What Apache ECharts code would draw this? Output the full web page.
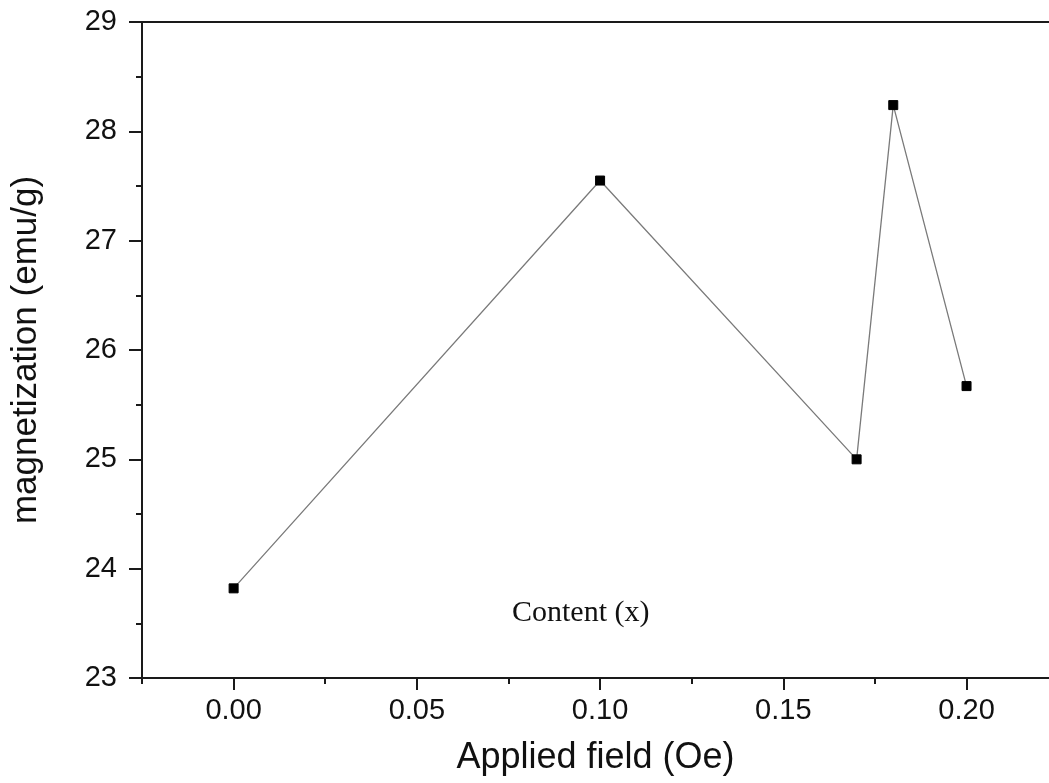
<!DOCTYPE html>
<html>
<head>
<meta charset="utf-8">
<script src="https://cdn.jsdelivr.net/npm/echarts@6/dist/echarts.min.js"></script>
<style>
  html, body { margin: 0; padding: 0; background: #fff; }
  #chart { width: 1049px; height: 783px; }
</style>
</head>
<body>
<div id="chart"></div>
<script>
// content x values and magnetization (emu/g)
const contentX = [0.00, 0.10, 0.17, 0.18, 0.20]
const magnetization = [23.82, 27.55, 25.00, 28.24, 25.67]

// x axis tick positions
const xMajorTicks = [0.00, 0.05, 0.10, 0.15, 0.20]
const xMinorTicks = [-0.025, 0.025, 0.075, 0.125, 0.175]

const xTitle = 'Applied field (Oe)'
const yTitle = 'magnetization (emu/g)'
const note = 'Content (x)'

const seriesData = contentX.map((x, i) => [x, magnetization[i]])

const axisColor = '#1a1a1a'
const sans = 'Liberation Sans, Arial, sans-serif'
const xMin = -0.025
const xMax = 0.2225

const chart = echarts.init(document.getElementById('chart'))
chart.setOption({
  animation: false,
  backgroundColor: '#fff',
  grid: { left: 142, top: 22, right: 0, bottom: 105, containLabel: false },
  xAxis: [{
    type: 'value',
    min: xMin,
    max: xMax,
    position: 'bottom',
    name: xTitle,
    nameLocation: 'middle',
    nameGap: 62,
    nameTextStyle: { fontFamily: sans, fontSize: 36, color: '#111' },
    axisLine: { onZero: false, lineStyle: { color: axisColor, width: 2 } },
    axisTick: { length: 12, customValues: xMajorTicks, lineStyle: { color: axisColor, width: 2 } },
    splitLine: { show: false },
    axisLabel: {
      margin: 18, fontFamily: sans, fontSize: 29, color: '#111',
      customValues: xMajorTicks,
      formatter: v => v.toFixed(2)
    }
  }, {
    // minor ticks
    type: 'value',
    min: xMin,
    max: xMax,
    position: 'bottom',
    axisLine: { show: false, onZero: false },
    axisTick: { length: 6, customValues: xMinorTicks, lineStyle: { color: axisColor, width: 2 } },
    axisLabel: { show: false },
    splitLine: { show: false }
  }, {
    type: 'value',
    min: xMin,
    max: xMax,
    position: 'top',
    axisLine: { onZero: false, lineStyle: { color: axisColor, width: 2 } },
    axisTick: { show: false },
    axisLabel: { show: false },
    splitLine: { show: false }
  }],
  yAxis: {
    type: 'value',
    min: 23,
    max: 29,
    interval: 1,
    name: yTitle,
    nameLocation: 'middle',
    nameGap: 98,
    nameTextStyle: { fontFamily: sans, fontSize: 35, color: '#111' },
    axisLine: { show: true, onZero: false, lineStyle: { color: axisColor, width: 2 } },
    axisTick: { length: 13, lineStyle: { color: axisColor, width: 2 } },
    minorTick: { show: true, splitNumber: 2, length: 6, lineStyle: { color: axisColor, width: 2 } },
    splitLine: { show: false },
    axisLabel: { margin: 25, fontFamily: sans, fontSize: 29, color: '#111' }
  },
  graphic: [{
    type: 'text',
    left: 512,
    top: 598,
    style: { text: note, font: '30px "Liberation Serif", "Times New Roman", serif', fill: '#111' }
  }],
  series: [{
    type: 'line',
    data: seriesData,
    symbol: 'rect',
    symbolSize: 9,
    itemStyle: { color: '#000', borderColor: '#000', borderWidth: 1 },
    lineStyle: { color: '#7a7a7a', width: 1.3 }
  }]
})
</script>
</body>
</html>
